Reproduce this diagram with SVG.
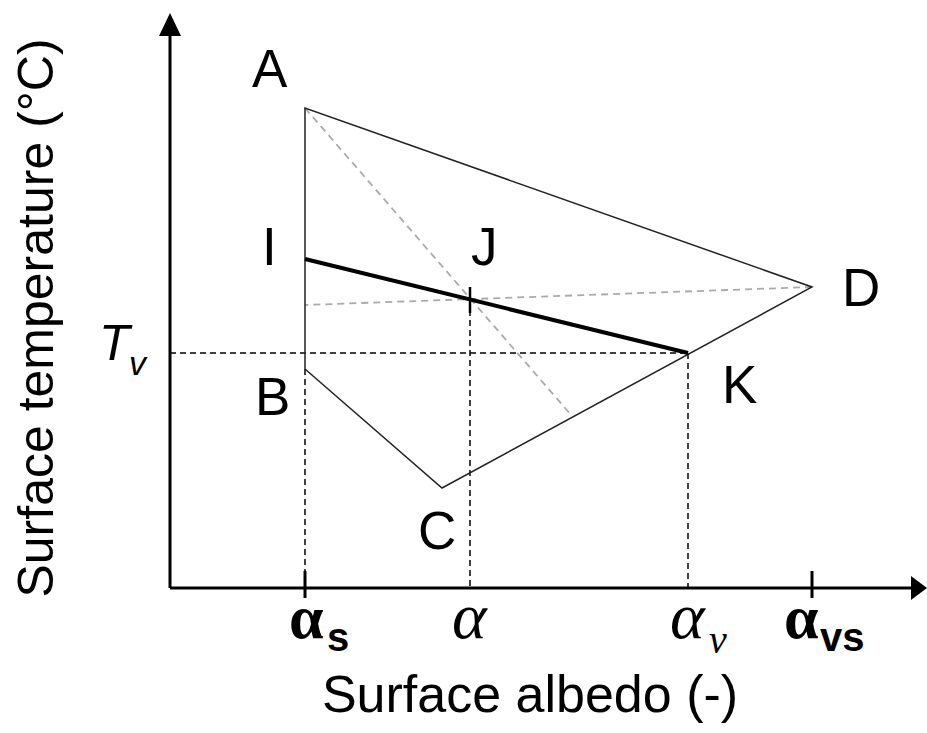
<svg xmlns="http://www.w3.org/2000/svg" width="927" height="733" viewBox="0 0 927 733">
<style>
.lbl{font-family:"Liberation Sans",Arial,sans-serif;font-size:53px;fill:#000}
.title{font-family:"Liberation Sans",Arial,sans-serif;fill:#000}
.gb{font-family:"Liberation Serif","Times New Roman",serif;font-weight:bold;font-size:62px}
.gi{font-family:"Liberation Serif","Times New Roman",serif;font-style:italic;font-size:66px}
.sb{font-family:"Liberation Sans",Arial,sans-serif;font-weight:bold;font-size:40px}
.si{font-family:"Liberation Serif","Times New Roman",serif;font-style:italic;font-size:40px}
.edge{stroke:#222;stroke-width:1.5;fill:none}
.gd{stroke:#aaa;stroke-width:1.8;stroke-dasharray:7,5;fill:none}
.bd{stroke:#000;stroke-width:1.5;stroke-dasharray:6,4;fill:none}
.axis{stroke:#000;stroke-width:3;fill:none}
</style>
<rect width="927" height="733" fill="#fff"/>
<g id="axes">
<line class="axis" x1="170" y1="588" x2="170" y2="32"/>
<polygon points="170,13 159,36 181,36" fill="#000"/>
<line class="axis" x1="170" y1="588" x2="912" y2="588"/>
<polygon points="927,588 911,576 911,600" fill="#000"/>
<line class="axis" x1="305" y1="571" x2="305" y2="598"/>
<line class="axis" x1="812" y1="571" x2="812" y2="598"/>
</g>
<g id="connectors">
<line class="bd" x1="170" y1="353" x2="688" y2="353"/>
<line class="bd" x1="305" y1="369" x2="305" y2="587"/>
<line class="bd" x1="470" y1="300" x2="470" y2="587"/>
<line class="bd" x1="688" y1="353" x2="688" y2="587"/>
<line class="gd" x1="305" y1="108" x2="572" y2="416"/>
<line class="gd" x1="812" y1="287" x2="305" y2="305"/>
<polyline class="edge" points="305,369 305,108 812,287 442,488 305,369"/>
<line x1="305" y1="259" x2="688" y2="353" stroke="#000" stroke-width="4"/>
<line x1="470" y1="287" x2="470" y2="313" stroke="#000" stroke-width="2.5"/>
</g>
<g id="node-A"><text class="lbl" x="252" y="87">A</text></g>
<g id="node-I"><text class="lbl" x="262" y="265">I</text></g>
<g id="node-J"><text class="lbl" x="471" y="265">J</text></g>
<g id="node-B"><text class="lbl" x="255" y="415">B</text></g>
<g id="node-C"><text class="lbl" x="418" y="549">C</text></g>
<g id="node-D"><text class="lbl" x="842" y="306">D</text></g>
<g id="node-K"><text class="lbl" x="722" y="403">K</text></g>
<g id="label-Tv"><text x="99" y="360" font-family="Liberation Sans, Arial, sans-serif" font-style="italic" font-size="50">T</text><text x="129" y="375" font-family="Liberation Sans, Arial, sans-serif" font-style="italic" font-size="34">v</text></g>
<g id="tick-labels">
<text class="gb" x="289" y="638">α</text><text class="sb" x="327" y="651">s</text>
<text class="gi" x="452" y="638">α</text>
<text class="gi" x="670" y="638">α</text><text class="si" x="709" y="653">v</text>
<text class="gb" x="784" y="638">α</text><text class="sb" x="820" y="651">vs</text>
</g>
<g id="axis-titles">
<text class="title" x="530" y="712" font-size="52" text-anchor="middle">Surface albedo (-)</text>
<text class="title" font-size="50" text-anchor="middle" transform="translate(53,318) rotate(-90)">Surface temperature (°C)</text>
</g>
</svg>
